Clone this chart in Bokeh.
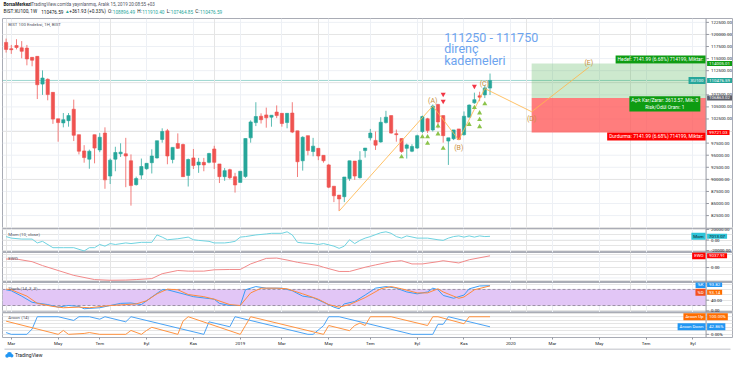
from bokeh.plotting import figure
from bokeh.models import Range1d, FixedTicker, Grid, Label, BoxAnnotation, Span
from bokeh.layouts import column
from bokeh.embed import file_html
from bokeh.resources import INLINE
from bokeh.core.properties import value

# ---------------- data (weekly candles, BIST:XU100, 1W) ----------------
opens = [118350, 117040, 117700, 117230, 117170, 115260, 115460, 109720, 110710, 108010,
         102540, 101690, 102150, 104520, 99250, 95890, 94180, 99250, 96090, 99580,
         90690, 94180, 95300, 95300, 93850, 88910, 90890, 92200, 93450, 94440,
         98260, 100040, 94110, 97410, 97210, 90820, 94440, 92990, 93520, 93520,
         96290, 93190, 90560, 92000, 90560, 89370, 90600, 98590, 101750, 103070,
         103340, 102870, 103930, 103670, 101760, 103730, 100040, 93850, 99050, 95760,
         96420, 94970, 92990, 88580, 86740, 86410, 90160, 93780, 90360, 95960,
         98590, 98070, 97740, 101750, 103200, 99450, 98460, 96420, 95830, 96480,
         99910, 102550, 100240, 105510, 103200, 97930, 98400, 100440, 99250, 102870,
         105840, 107290, 107490, 108896.49]
highs = [119140, 117830, 119010, 118620, 117830, 115260, 115460, 112560, 110910, 108010,
         102540, 103730, 103730, 106500, 99250, 97080, 96160, 99250, 99580, 100770,
         94310, 96750, 97470, 98590, 95170, 90560, 94310, 93320, 96220, 98000,
         100570, 100440, 96620, 99520, 97410, 94310, 96290, 94440, 94440, 95500,
         96950, 93190, 92340, 92200, 91350, 91680, 98460, 102220, 105970, 103670,
         104850, 103270, 105310, 103670, 103670, 105970, 100040, 98920, 99050, 98590,
         96420, 94970, 93200, 88580, 86740, 90490, 93850, 93780, 95830, 96480,
         100440, 99910, 102870, 104190, 103200, 100310, 98460, 97410, 97280, 99250,
         103200, 102740, 105510, 105640, 103200, 98590, 100240, 100440, 104060, 105510,
         107950, 108140, 109460, 111910.40]
lows = [116250, 115980, 116900, 115060, 113610, 113410, 106630, 107490, 106370, 101490,
        97800, 100770, 100900, 97930, 95170, 93450, 92200, 93320, 95630, 88050,
        89040, 91680, 94640, 88380, 84560, 88710, 90030, 92000, 91220, 94310,
        97600, 93130, 93320, 96290, 90560, 88520, 92140, 91350, 91680, 93320,
        92140, 89240, 89700, 90030, 87260, 89370, 90300, 97600, 101030, 101560,
        100700, 100900, 102680, 100900, 100570, 99580, 90490, 91810, 94970, 94770,
        93980, 93460, 88190, 85290, 83440, 85290, 89700, 89900, 90160, 94510,
        98070, 96090, 97600, 101560, 99450, 97800, 95500, 94310, 95630, 96290,
        99580, 99580, 99910, 100570, 97600, 92990, 98130, 98130, 99050, 102870,
        105640, 106170, 106830, 107464.85]
closes = [116900, 116840, 117300, 116510, 114930, 114660, 109590, 110980, 107550, 102480,
          101750, 102350, 103200, 99120, 95830, 94510, 95830, 96480, 98720, 89900,
          93980, 95560, 95630, 94840, 88710, 90160, 92660, 93320, 94840, 98000,
          99910, 94840, 96620, 96420, 90560, 94110, 92860, 93590, 92990, 95360,
          93520, 90560, 91810, 90360, 88840, 91680, 98460, 101890, 103010, 102350,
          102740, 103270, 103200, 101560, 103670, 99780, 93650, 98720, 95960, 96880,
          94840, 93850, 88380, 86600, 85950, 90490, 93850, 90690, 93980, 96480,
          99580, 97080, 101820, 102870, 99580, 99250, 95760, 97140, 96810, 99050,
          103010, 100110, 105180, 101890, 99050, 98590, 100240, 98260, 103070, 105380,
          106500, 107020, 108930, 110476.59]

month_ticks = [1, 10, 18, 27, 36, 45, 53, 62, 70, 79, 88, 97, 105, 114, 123, 132]
month_labels = ["Mar", "May", "Tem", "Eyl", "Kas", "2019", "Mar", "May", "Tem", "Eyl",
                "Kas", "2020", "Mar", "May", "Tem", "Eyl"]
price_levels = [82500, 85000, 87500, 90000, 92500, 95000, 97500, 100000, 102500, 105000,
                107500, 110000, 112500, 115000, 117500, 120000, 122500]
hidden_levels = [100000, 110000]

# Elliott wave drawing (A)-(E)
wave_x = [64, 82, 87, 92, 101, 112]
wave_y = [83440, 105180, 98130, 108800, 104000, 113200]
wave_names = ["(A)", "(B)", "(C)", "(D)", "(E)"]
wave_label_x = [82, 87, 91.9, 101, 112]
wave_label_y = [106300, 96430, 109670, 102410, 114000]

# pattern markers
buy_x = [76, 80, 81, 81, 83, 83, 84, 89, 90, 91, 91, 91, 92]
buy_y = [94650, 98800, 98800, 97470, 101030, 99390, 96430, 101370, 104840, 103740, 102360, 100890, 105640]
sell_x = [84, 84, 90]
sell_y = [107610, 106170, 109270]

# long position tool
trade_start = 101
entry_price = 106863.02
target_price = 114005.01
stop_price = 99721.03

# indicators
mom_x = [0, 1, 3, 5, 6, 7, 9, 11, 13, 15, 16, 17, 18, 19, 20, 21, 23, 24, 26, 28, 29, 30, 31, 33, 35,
         36, 37, 39, 40, 42, 43, 44, 45, 46, 48, 50, 51, 53, 54, 55, 56, 57, 59, 60, 61, 63, 64, 65,
         66, 67, 68, 69, 70, 72, 73, 74, 75, 76, 77, 79, 81, 83, 84, 85, 86, 87, 88, 89, 90, 91, 92, 93]
mom_v = [6500, 3600, 1800, 1800, -5500, -2500, -14500, -14500, -14500, -20700, -14500, -14500, -8500,
         -11600, -6700, -8500, -5500, -6700, -4400, -4400, 9600, 5500, 500, 2400, 5500, 500, -700,
         -2500, -5500, -5500, -4400, -2500, 5500, 6500, 9600, 11500, 12700, 12700, 15600, 9600, -4400,
         -5500, -6700, -8500, -6700, -11600, -15800, -11600, 500, -6700, -700, 3600, 6500, 13800, 15600,
         12700, 6500, 3600, 7800, 3600, 3600, 500, -700, 3600, 6500, 7800, 5500, 7800, 5500, 7800, 6500,
         7013.07]
ewo_x = [0, 2, 5, 7, 10, 13, 17, 20, 23, 25, 28, 30, 33, 35, 38, 40, 43, 45, 47, 50, 52, 54, 56, 60,
         61, 64, 66, 69, 71, 74, 76, 78, 80, 83, 84, 87, 89, 93]
ewo_v = [6550, 6550, 4520, 1510, -2260, -6020, -9260, -9790, -9640, -9260, -8510, -4740, -2260, -2760,
         -2760, -1730, -1480, -1480, 2790, 7050, 7300, 5800, 4040, 1510, 250, -3010, -3010, 250, 2030,
         4520, 5270, 2790, 2790, 4520, 5270, 3540, 6020, 9037.91]
k_x = [0, 1, 3, 5, 8, 10, 12, 14, 15, 18, 20, 22, 24, 26, 28, 30, 31, 34, 36, 40, 41, 43, 45, 46, 48,
       50, 53, 55, 57, 59, 61, 63, 64, 65, 67, 69, 71, 73, 75, 77, 79, 81, 82, 83, 84, 86, 88, 89, 91, 93]
k_v = [78.7, 75, 55, 32, 23.5, 14, 20, 16.5, 8, 11.7, 20, 28, 29.4, 23.5, 51.8, 78.7, 78.7, 63.5, 53,
       43.5, 28, 20, 20, 78.7, 90.6, 84.7, 84.7, 75, 55, 49.4, 32, 14, 8, 26, 35, 59, 84.7, 90.6, 84.7,
       70.6, 63.5, 70.6, 84.7, 78.7, 57.6, 47, 59, 82.3, 92.9, 93.82]
d_x = [0, 1, 4, 6, 9, 11, 14, 16, 20, 23, 25, 27, 29, 31, 33, 35, 38, 40, 43, 45, 47, 49, 52, 54, 57,
       60, 62, 64, 66, 69, 72, 74, 76, 79, 81, 83, 84, 87, 88, 90, 93]
d_v = [81, 78.7, 55, 28, 16.5, 11.7, 14, 11.7, 20, 23.5, 26, 37.6, 63.5, 81, 78.7, 61, 53, 43.5, 23.5,
       20, 67, 84.7, 84.7, 82.3, 63.5, 43.5, 23.5, 14, 23.5, 49.4, 82.3, 90.6, 82.3, 67, 67, 82.3, 70.6,
       47, 51.8, 78.7, 93.14]
stoch_upper, stoch_lower = 80, 20
up_x = [0, 10, 11, 12, 15, 16, 18, 23, 24, 26, 27, 28, 33, 34, 35, 45, 46, 47, 61, 62, 66, 67, 68, 69,
        70, 74, 81, 82, 83, 88, 89, 93]
up_v = [75, 0, 22, 0, 5, 10, 0, 0, 22, 0, 22, 40, 0, 75, 100, 0, 50, 100, 0, 50, 21, 50, 64, 50, 100,
        100, 50, 100, 100, 60, 100, 100]
down_x = [0, 1, 4, 5, 6, 10, 13, 14, 16, 18, 19, 23, 24, 38, 39, 43, 44, 58, 59, 61, 62, 64, 78, 82,
          83, 84, 85, 93]
down_v = [10, 0, 0, 30, 100, 100, 79, 100, 100, 86, 100, 71, 100, 0, 71, 43, 100, 0, 0, 49, 100, 100,
          0, 0, 57, 57, 100, 42.86]

# ---------------- layout / style ----------------
FONT = "Roboto"
W = 734
B_SIDE = 2
FRAME_W = W - 2 * B_SIDE
H_HEAD, H_MAIN, H_MOM, H_EWO, H_STO, H_AR, H_AXIS, H_LOGO = 18, 210, 24, 30, 30, 26, 10, 13
X0, X1 = -0.69, 139.6          # full frame incl. price-scale column
AXIS_X = 134.52                 # position of the price scale line
TICK_LEN = 0.55
LBL_OFF = 0.95
GRID = "#edf0f5"
OUTLINE = "#a9acb5"
AXIS_C = "#9598a1"
TXT = "#131722"
SUB = "#50535e"
FS = "4.4px"
POS_FS = "4.9px"
UP, DN = "#26a69a", "#ef5350"
GREEN_TAG = "#0e9c12"
TAG_PAD = dict(left=2, right=2, top=1, bottom=1)

xr = Range1d(X0, X1)


def px_to_x(px):
    return X0 + (X1 - X0) * px / FRAME_W


def px_to_y(y0, y1, h, px):
    return y1 - (y1 - y0) * px / h


def tag(p, x, y, text, bg, fg="#ffffff", align="left", baseline="middle"):
    p.add_layout(Label(x=x, y=y, text=text, text_font=FONT, text_font_size=FS,
                       text_color=fg, text_align=align, text_baseline=baseline,
                       background_fill_color=bg, background_fill_alpha=1.0, padding=TAG_PAD))


def pane(h, y0, y1, yticks, ylabels, grid_levels, bottom=False):
    p = figure(width=W, height=h + (H_AXIS if bottom else 0), x_range=xr, y_range=Range1d(y0, y1),
               output_backend="svg", toolbar_location=None,
               x_axis_location="below" if bottom else None, y_axis_location=None,
               min_border_left=B_SIDE, min_border_right=B_SIDE, min_border_top=0,
               min_border_bottom=H_AXIS if bottom else 0)
    p.outline_line_color = OUTLINE
    p.background_fill_color = "white"
    p.border_fill_color = "white"
    n = len(grid_levels)
    p.segment(x0=[X0] * n, x1=[AXIS_X] * n, y0=grid_levels, y1=grid_levels,
              line_color=GRID, line_width=1, level="underlay")
    p.add_layout(Grid(dimension=0, ticker=FixedTicker(ticks=month_ticks), grid_line_color=GRID))
    p.add_layout(Span(location=AXIS_X, dimension="height", line_color=AXIS_C, line_width=1))
    m = len(yticks)
    p.segment(x0=[AXIS_X] * m, x1=[AXIS_X + TICK_LEN] * m, y0=yticks, y1=yticks,
              line_color=AXIS_C, line_width=1)
    p.text(x=[AXIS_X + LBL_OFF] * m, y=yticks, text=ylabels, text_font=value(FONT),
           text_font_size=FS, text_color=TXT, text_baseline="middle")
    if bottom:
        xa = p.xaxis[0]
        xa.ticker = FixedTicker(ticks=month_ticks)
        xa.major_label_overrides = dict(zip(month_ticks, month_labels))
        xa.axis_line_color = None
        xa.major_tick_line_color = AXIS_C
        xa.major_tick_out = 2
        xa.major_tick_in = 0
        xa.minor_tick_line_color = None
        xa.major_label_text_font = FONT
        xa.major_label_text_font_size = FS
        xa.major_label_text_color = TXT
        xa.major_label_standoff = 1
        p.xgrid.grid_line_color = None
    return p


def pane_title(p, y0, y1, h, text, px_top):
    p.add_layout(Label(x=px_to_x(5.8), y=px_to_y(y0, y1, h, px_top), text=text, text_font=FONT,
                       text_font_size=FS, text_color=SUB, text_baseline="middle"))


# ---------------- header ----------------
head = figure(width=W, height=H_HEAD, x_range=Range1d(0, W), y_range=Range1d(H_HEAD, 0),
              output_backend="svg", toolbar_location=None, x_axis_location=None,
              y_axis_location=None, min_border=0, outline_line_color=None)
head.grid.visible = False
head.text(x=[1.0], y=[4.0], text=["BorsaMerkezi"], text_font=value(FONT), text_font_size="4.5px",
          text_font_style="bold", text_color=TXT, text_baseline="middle")
head.text(x=[29.0], y=[4.0], text=["TradingView.com'da yayınlanmış, Aralık 15, 2019 20:08:55 +03"],
          text_font=value(FONT), text_font_size="4.5px", text_color=SUB, text_baseline="middle")
hx = [1.0, 38.9, 62.8, 67.1, 106.2, 110.9, 135.6, 140.4, 165.1, 169.2, 193.9, 198.5]
ht = ["BIST:XU100, 1W", "110476.59", "\u25b2", "+361.93 (+0.33%)", "O:", "108896.49", "H:",
      "111910.40", "L:", "107464.85", "C:", "110476.59"]
hc = [TXT, TXT, UP, TXT, TXT, UP, TXT, UP, TXT, UP, TXT, UP]
head.text(x=hx, y=[11.0] * len(hx), text=ht, text_color=hc, text_font=value(FONT),
          text_font_size="4.7px", text_baseline="middle")

# ---------------- main price pane ----------------
MY0, MY1 = 79830, 123300
shown = [v for v in price_levels if v not in hidden_levels]
main = pane(H_MAIN, MY0, MY1, shown, ["%.2f" % v for v in shown], price_levels)

idx = list(range(len(opens)))
up_i = [i for i in idx if closes[i] >= opens[i]]
dn_i = [i for i in idx if closes[i] < opens[i]]
for sel, col in ((up_i, UP), (dn_i, DN)):
    main.segment(x0=sel, x1=sel, y0=[lows[i] for i in sel], y1=[highs[i] for i in sel],
                 line_color=col, line_alpha=0.75, line_width=1)
    main.vbar(x=sel, width=0.62, top=[max(opens[i], closes[i]) for i in sel],
              bottom=[min(opens[i], closes[i]) for i in sel], fill_color=col, line_color=col,
              line_width=0.6)

main.segment(x0=[X0], x1=[AXIS_X], y0=[closes[-1]], y1=[closes[-1]], line_color=UP,
             line_alpha=0.45, line_width=1, level="underlay")

# long position boxes
main.quad(left=[trade_start], right=[AXIS_X], top=[target_price], bottom=[entry_price],
          fill_color="#4caf50", fill_alpha=0.28, line_color=None)
main.quad(left=[trade_start], right=[AXIS_X], top=[entry_price], bottom=[stop_price],
          fill_color="#ff5252", fill_alpha=0.75, line_color=None)

# wave
main.line(wave_x, wave_y, line_color="#ffb74d", line_alpha=0.85, line_width=1)
main.text(x=wave_label_x, y=wave_label_y, text=wave_names, text_font=value(FONT),
          text_font_size="7px", text_color="#c98f3a", text_align="center", text_baseline="middle")

# markers
main.scatter(buy_x, buy_y, marker="triangle", size=5, fill_color="#8bc34a", line_color=None)
main.scatter(sell_x, sell_y, marker="inverted_triangle", size=5, fill_color="#f23645", line_color=None)

# note
note_lines = ["111250 - 111750", "direnç", "kademeleri"]
note_y = [119400, 117040, 114530]
for t, yy in zip(note_lines, note_y):
    main.add_layout(Label(x=84.2, y=yy, text=t, text_font=FONT, text_font_size="12.5px",
                          text_color="#6da4ef", text_baseline="middle"))

# position labels
main.add_layout(Label(x=AXIS_X - 0.1, y=target_price, text="Hedef: 7141.99 (6.68%) 714199, Miktar:",
                      text_font=FONT, text_font_size=POS_FS, text_color="white", text_align="right",
                      text_baseline="bottom", background_fill_color=GREEN_TAG, padding=TAG_PAD))
main.add_layout(Label(x=126.6, y=entry_price + 350,
                      text="Açık Kar/Zarar: 3613.57, Mik: 0\nRisk/Ödül Oranı: 1",
                      text_font=FONT, text_font_size=POS_FS, text_color="white", text_align="center",
                      text_baseline="top", background_fill_color=GREEN_TAG, padding=TAG_PAD))
main.add_layout(Label(x=AXIS_X - 0.1, y=stop_price, text="Durdurma: 7141.99 (6.68%) 714199, Miktar:",
                      text_font=FONT, text_font_size=POS_FS, text_color="white", text_align="right",
                      text_baseline="top", background_fill_color="#ff0000", padding=TAG_PAD))

# price tags on the scale
TX = AXIS_X + 0.2
tag(main, TX, target_price, "114005.01", GREEN_TAG)
tag(main, AXIS_X - 0.1, closes[-1], "XU100", UP, align="right")
tag(main, TX, closes[-1], "110476.59", UP)
tag(main, TX, entry_price, "106863.02", "#5d606b")
tag(main, TX, stop_price, "99721.03", "#ff0000")
pane_title(main, MY0, MY1, H_MAIN, "BIST 100 Endeksi, 1H, BIST", 5.5)

# ---------------- Momentum ----------------
MO0, MO1 = -23640, 21820
mom = pane(H_MOM, MO0, MO1, [-20000, 0, 20000], ["-20000.00", "0.00", "20000.00"],
           [-20000, 0, 20000])
mom.line(mom_x, mom_v, line_color="#6fd3e0", line_width=1)
pane_title(mom, MO0, MO1, H_MOM, "Mom (10, close)", 5.7)
tag(mom, AXIS_X - 0.1, mom_v[-1], "Mom", "#2ec4d8", fg=TXT, align="right")
tag(mom, TX, mom_v[-1], "7013.07", "#2ec4d8", fg=TXT)

# ---------------- EWO ----------------
E0, E1 = -11520, 11600
ewo = pane(H_EWO, E0, E1, [0], ["0.00"], [-8000, 0, 8000])
ewo.line(ewo_x, ewo_v, line_color="#f28a8a", line_width=1)
pane_title(ewo, E0, E1, H_EWO, "EWO", 6.4)
tag(ewo, AXIS_X - 0.1, ewo_v[-1], "EWO", "#ff0000", align="right")
tag(ewo, TX, ewo_v[-1], "9037.91", "#ff0000")

# ---------------- Stochastic ----------------
S0, S1 = -6, 105.8
sto = pane(H_STO, S0, S1, [0, 40], ["0.00", "40.00"], [0, 40, 80])
sto.add_layout(BoxAnnotation(bottom=stoch_lower, top=stoch_upper, left=X0, right=AXIS_X,
                             fill_color="#e2c6f6", fill_alpha=1.0, line_color=None, level="underlay"))
for lv in (stoch_lower, stoch_upper):
    sto.segment(x0=[X0], x1=[AXIS_X], y0=[lv], y1=[lv], line_color="#8a7f96", line_dash="3 2",
                line_width=0.8)
sto.line(k_x, k_v, line_color="#3a9df5", line_width=1)
sto.line(d_x, d_v, line_color="#ff8a3d", line_width=1)
pane_title(sto, S0, S1, H_STO, "Stoch (14, 3, 3)", 5.8)
K_TAG_Y, D_TAG_Y = 98.7, 69.5
tag(sto, AXIS_X - 0.1, K_TAG_Y, "%K", "#2196f3", align="right")
tag(sto, TX, K_TAG_Y, "93.82", "#2196f3")
tag(sto, AXIS_X - 0.1, D_TAG_Y, "%D", "#f4511e", align="right")
tag(sto, TX, D_TAG_Y, "93.14", "#ff6d00")

# ---------------- Aroon ----------------
A0, A1 = -18, 124
aro = pane(H_AR, A0, A1, [0], ["0.00%"], [0, 100], bottom=True)
aro.line(down_x, down_v, line_color="#4aa3f5", line_width=1)
aro.line(up_x, up_v, line_color="#ff9340", line_width=1)
pane_title(aro, A0, A1, H_AR, "Aroon (14)", 5.1)
tag(aro, AXIS_X - 0.1, up_v[-1], "Aroon Up", "#ff6d00", align="right")
tag(aro, TX, up_v[-1], "100.00%", "#ff6d00")
tag(aro, AXIS_X - 0.1, down_v[-1], "Aroon Down", "#2196f3", align="right")
tag(aro, TX, down_v[-1], "42.86%", "#2196f3")

# ---------------- logo row ----------------
logo = figure(width=W, height=H_LOGO, x_range=Range1d(0, W), y_range=Range1d(H_LOGO, 0),
              output_backend="svg", toolbar_location=None, x_axis_location=None,
              y_axis_location=None, min_border=0, outline_line_color=None)
logo.grid.visible = False
logo.segment(x0=[B_SIDE], y0=[0.5], x1=[W - B_SIDE], y1=[0.5], line_color=OUTLINE, line_width=1)
logo.circle(x=[4.6, 7.0, 9.3], y=[7.4, 6.0, 7.3], radius=[1.8, 2.5, 1.7], fill_color="#2196f3",
            line_color=None)
logo.text(x=[12.5], y=[6.6], text=["TradingView"], text_font=value(FONT), text_font_size="5px",
          text_color=TXT, text_baseline="middle")

layout = column(head, main, mom, ewo, sto, aro, logo)
open("out.html", "w").write(file_html(layout, INLINE))
